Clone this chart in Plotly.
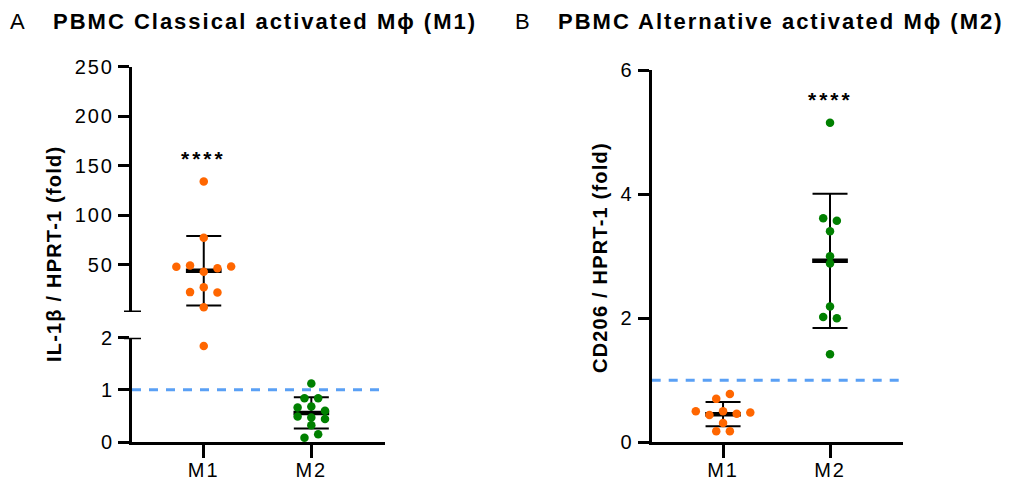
import numpy as np
import plotly.graph_objects as go

# ---------------- data ----------------
categories = ["M1", "M2"]

# Panel A : IL-1β / HPRT-1 (fold)
il1b_m1 = [134.0, 77.0, 47.7, 49.0, 42.6, 46.3, 48.0, 22.1, 27.1, 21.8, 6.9, 1.84]
il1b_m2 = [1.12, 0.84, 0.84, 0.66, 0.68, 0.60, 0.49, 0.47, 0.44, 0.32, 0.08, 0.15]
il1b_lower_ticks = [0, 1, 2]
il1b_upper_ticks = [50, 100, 150, 200, 250]

# Panel B : CD206 / HPRT-1 (fold)
cd206_m1 = [0.70, 0.78, 0.50, 0.44, 0.50, 0.46, 0.48, 0.31, 0.18, 0.18]
cd206_m2 = [5.15, 3.61, 3.57, 3.40, 3.00, 2.88, 2.19, 2.02, 2.00, 1.42]
cd206_ticks = [0, 2, 4, 6]

significance = "****"
baseline = 1.0

# ---------------- styling / geometry ----------------
W, H = 1024, 484
ORANGE = "#ff6600"
GREEN = "#008000"
BLUE = "#5aa0f5"
FONT = "Arial, Liberation Sans, sans-serif"

X_RANGE = [-0.667, 1.685]
A_X_PX = (132, 385)
A_LOW_PX = (442, 337.7)   # bottom, top
A_UP_PX = (312, 66.7)
A_LOW_RANGE = [0, 2]
A_UP_RANGE = [2, 250]
B_X_PX = (651.7, 903.3)
B_Y_PX = (442.3, 70)
B_RANGE = [0, 6]
SWARM_STEP_PX = 13.7
SWARM_THRESH_PX = 5.3


def xdom(px):
    return [px[0] / W, px[1] / W]


def ydom(px):
    return [(H - px[0]) / H, (H - px[1]) / H]


def to_px(v, px, rng):
    return px[0] - (v - rng[0]) / (rng[1] - rng[0]) * (px[0] - px[1])


def spaced(text, sp, bold=False):
    t = f"<b>{text}</b>" if bold else text
    return f'<span style="letter-spacing:{sp}px">{t}</span>'


step_units = SWARM_STEP_PX / ((A_X_PX[1] - A_X_PX[0]) / (X_RANGE[1] - X_RANGE[0]))


def swarm_offsets(values, px_func):
    pys = [px_func(v) for v in values]
    order = sorted(range(len(values)), key=lambda i: pys[i])
    groups, cur = [], [order[0]]
    for i in order[1:]:
        if pys[i] - pys[cur[-1]] < SWARM_THRESH_PX:
            cur.append(i)
        else:
            groups.append(cur)
            cur = [i]
    groups.append(cur)
    offs = [0.0] * len(values)
    for g in groups:
        g = sorted(g)
        m = len(g)
        for j, i in enumerate(g):
            offs[i] = (j - (m - 1) / 2) * step_units
    return offs


def a_px(v):
    return to_px(v, A_LOW_PX, A_LOW_RANGE) if v <= A_LOW_RANGE[1] else to_px(v, A_UP_PX, A_UP_RANGE)


def b_px(v):
    return to_px(v, B_Y_PX, B_RANGE)


fig = go.Figure()


def mean_sd_trace(xi, vals, xa, ya):
    m = float(np.mean(vals))
    s = float(np.std(vals, ddof=1))
    return go.Scatter(
        x=[xi], y=[m], xaxis=xa, yaxis=ya, mode="markers", cliponaxis=False,
        marker=dict(symbol="line-ew", size=25.5, color="black",
                    line=dict(width=4.5, color="black")),
        error_y=dict(type="data", array=[s], visible=True, color="black",
                     thickness=2, width=17.5),
        hoverinfo="skip",
    )


def points_trace(xs, ys, color, xa, ya):
    return go.Scatter(
        x=xs, y=ys, xaxis=xa, yaxis=ya, mode="markers", cliponaxis=False,
        marker=dict(size=8.5, color=color, line=dict(width=0)),
    )


# ---------- Panel A ----------
for ci, (vals, color) in enumerate([(il1b_m1, ORANGE), (il1b_m2, GREEN)]):
    m = float(np.mean(vals))
    fig.add_trace(mean_sd_trace(ci, vals, "x", "y2" if m > A_LOW_RANGE[1] else "y"))
    offs = swarm_offsets(vals, a_px)
    lo = [(ci + o, v) for v, o in zip(vals, offs) if v <= A_LOW_RANGE[1]]
    hi = [(ci + o, v) for v, o in zip(vals, offs) if v > A_LOW_RANGE[1]]
    if lo:
        fig.add_trace(points_trace([p[0] for p in lo], [p[1] for p in lo], color, "x", "y"))
    if hi:
        fig.add_trace(points_trace([p[0] for p in hi], [p[1] for p in hi], color, "x", "y2"))

# ---------- Panel B ----------
for ci, (vals, color) in enumerate([(cd206_m1, ORANGE), (cd206_m2, GREEN)]):
    fig.add_trace(mean_sd_trace(ci, vals, "x2", "y3"))
    offs = swarm_offsets(vals, b_px)
    fig.add_trace(points_trace([ci + o for o in offs], vals, color, "x2", "y3"))

TICK_SP = 2
tickfont = dict(family=FONT, size=20, color="black")
axis_common = dict(showline=True, linewidth=3, linecolor="black", ticks="outside",
                   tickwidth=3, tickcolor="black", showgrid=False, zeroline=False,
                   tickfont=tickfont, fixedrange=True, automargin=False)

xcommon = dict(axis_common, range=X_RANGE, tickvals=list(range(len(categories))),
               ticktext=[spaced(c, TICK_SP) for c in categories], ticklen=13,
               ticklabelstandoff=-5)

fig.update_layout(
    width=W, height=H, margin=dict(l=0, r=0, t=0, b=0, pad=0),
    paper_bgcolor="white", plot_bgcolor="white", showlegend=False,
    font=dict(family=FONT, color="black"),
    xaxis=dict(xcommon, domain=xdom(A_X_PX), anchor="y"),
    yaxis=dict(axis_common, domain=ydom(A_LOW_PX), range=A_LOW_RANGE, anchor="x",
               tickvals=il1b_lower_ticks,
               ticktext=[spaced(str(t), TICK_SP) for t in il1b_lower_ticks], ticklen=11),
    yaxis2=dict(axis_common, domain=ydom(A_UP_PX), range=A_UP_RANGE, anchor="x",
                tickvals=il1b_upper_ticks,
                ticktext=[spaced(str(t), TICK_SP) for t in il1b_upper_ticks], ticklen=11),
    xaxis2=dict(xcommon, domain=xdom(B_X_PX), anchor="y3"),
    yaxis3=dict(axis_common, domain=ydom(B_Y_PX), range=B_RANGE, anchor="x2",
                tickvals=cd206_ticks,
                ticktext=[spaced(str(t), TICK_SP) for t in cd206_ticks], ticklen=11),
)

# baseline dashed lines at 1
fig.add_shape(type="line", xref="x domain", yref="y", x0=0, x1=1, y0=baseline, y1=baseline,
              line=dict(color=BLUE, width=3, dash="9px,8px"), layer="below")
fig.add_shape(type="line", xref="x2 domain", yref="y3", x0=0, x1=1, y0=baseline, y1=baseline,
              line=dict(color=BLUE, width=3, dash="9px,8px"), layer="below")
# dashed zero line under axis of panel A
fig.add_shape(type="line", xref="x domain", yref="y", x0=0, x1=1, ysizemode="pixel",
              yanchor=0, y0=-2, y1=-2, line=dict(color="black", width=3, dash="7px,3px"))
# axis-break bars
for yr, yv in [("y", A_LOW_RANGE[1]), ("y2", A_UP_RANGE[0])]:
    fig.add_shape(type="line", xref="paper", yref=yr, x0=(A_X_PX[0] - 8) / W,
                  x1=(A_X_PX[0] + 9) / W, y0=yv, y1=yv, line=dict(color="black", width=3))

# significance marks
for xr, yr, xi, vals in [("x", "y2", 0, il1b_m1), ("x2", "y3", 1, cd206_m2)]:
    fig.add_annotation(x=xi, y=max(vals), xref=xr, yref=yr, yshift=23, showarrow=False,
                       text=spaced(significance, 3, bold=True), font=dict(size=21, family=FONT))

# panel letters and titles
for letter, lx, title, tx in [("A", 17.5, "PBMC Classical activated Mϕ (M1)", 51),
                              ("B", 522, "PBMC Alternative activated Mϕ (M2)", 556)]:
    fig.add_annotation(x=lx / W, y=(H - 22) / H, xref="paper", yref="paper", showarrow=False,
                       text=letter, font=dict(size=22, family=FONT), xanchor="center", yanchor="middle")
    fig.add_annotation(x=tx / W, y=(H - 22) / H, xref="paper", yref="paper", showarrow=False,
                       text=spaced(title, 2.0, bold=True), font=dict(size=22, family=FONT),
                       xanchor="left", yanchor="middle")

# y-axis titles
for label, ax_x, ax_y in [("IL-1β / HPRT-1 (fold)", 54, 254), ("CD206 / HPRT-1 (fold)", 600, 258)]:
    fig.add_annotation(x=ax_x / W, y=(H - ax_y) / H, xref="paper", yref="paper", showarrow=False,
                       text=spaced(label, 1.2, bold=True), textangle=-90,
                       font=dict(size=20, family=FONT), xanchor="center", yanchor="middle")

fig.write_html("out.html")
